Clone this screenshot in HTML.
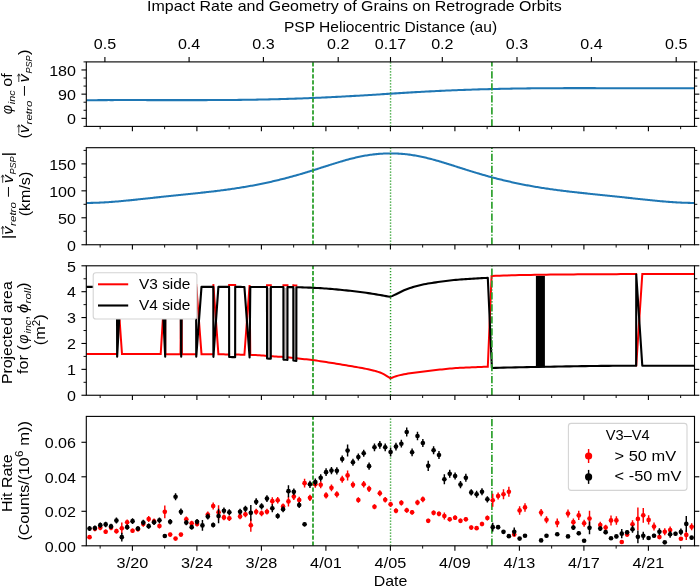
<!DOCTYPE html>
<html><head><meta charset="utf-8"><title>Impact Rate and Geometry of Grains on Retrograde Orbits</title>
<style>
html,body{margin:0;padding:0;background:#fff;}
svg{display:block;will-change:transform;}
text{font-family:"Liberation Sans",sans-serif;fill:#000;}
</style></head><body>
<svg width="700" height="587" viewBox="0 0 700 587">
<rect width="700" height="587" fill="#fff"/>
<defs>
<clipPath id="c0"><rect x="86.3" y="61.9" width="608.2" height="64.5"/></clipPath>
<clipPath id="c1"><rect x="86.3" y="147.7" width="608.2" height="97.05"/></clipPath>
<clipPath id="c2"><rect x="86.3" y="265.8" width="608.2" height="129.45"/></clipPath>
<clipPath id="c3"><rect x="86.3" y="416.4" width="608.2" height="129.4"/></clipPath>
</defs>
<g clip-path="url(#c0)">
<polyline points="86.3,100.21 88.33,100.2 90.37,100.19 92.4,100.17 94.44,100.16 96.47,100.15 98.5,100.14 100.54,100.13 102.57,100.12 104.61,100.12 106.64,100.11 108.68,100.1 110.71,100.1 112.74,100.1 114.78,100.09 116.81,100.09 118.85,100.09 120.88,100.08 122.91,100.08 124.95,100.08 126.98,100.08 129.02,100.08 131.05,100.08 133.08,100.08 135.12,100.09 137.15,100.09 139.19,100.09 141.22,100.09 143.26,100.09 145.29,100.1 147.32,100.1 149.36,100.1 151.39,100.1 153.43,100.11 155.46,100.11 157.49,100.11 159.53,100.12 161.56,100.12 163.6,100.12 165.63,100.13 167.66,100.13 169.7,100.13 171.73,100.13 173.77,100.13 175.8,100.14 177.84,100.14 179.87,100.14 181.9,100.14 183.94,100.14 185.97,100.14 188.01,100.14 190.04,100.14 192.07,100.14 194.11,100.13 196.14,100.13 198.18,100.13 200.21,100.12 202.24,100.12 204.28,100.11 206.31,100.11 208.35,100.1 210.38,100.09 212.42,100.08 214.45,100.07 216.48,100.06 218.52,100.05 220.55,100.04 222.59,100.03 224.62,100.01 226.65,100 228.69,99.98 230.72,99.96 232.76,99.94 234.79,99.92 236.82,99.9 238.86,99.88 240.89,99.86 242.93,99.83 244.96,99.81 246.99,99.78 249.03,99.75 251.06,99.72 253.1,99.69 255.13,99.65 257.17,99.62 259.2,99.58 261.23,99.54 263.27,99.51 265.3,99.46 267.34,99.42 269.37,99.38 271.4,99.33 273.44,99.28 275.47,99.23 277.51,99.18 279.54,99.13 281.57,99.07 283.61,99.01 285.64,98.95 287.68,98.89 289.71,98.83 291.75,98.76 293.78,98.7 295.81,98.63 297.85,98.56 299.88,98.49 301.92,98.41 303.95,98.34 305.98,98.26 308.02,98.18 310.05,98.1 312.09,98.02 314.12,97.93 316.15,97.84 318.19,97.76 320.22,97.67 322.26,97.57 324.29,97.48 326.33,97.39 328.36,97.29 330.39,97.19 332.43,97.09 334.46,96.99 336.5,96.89 338.53,96.78 340.56,96.67 342.6,96.57 344.63,96.46 346.67,96.35 348.7,96.23 350.73,96.12 352.77,96 354.8,95.88 356.84,95.77 358.87,95.65 360.91,95.52 362.94,95.4 364.97,95.28 367.01,95.15 369.04,95.03 371.08,94.9 373.11,94.78 375.14,94.65 377.18,94.52 379.21,94.4 381.25,94.27 383.28,94.14 385.31,94.01 387.35,93.88 389.38,93.76 391.42,93.63 393.45,93.5 395.49,93.37 397.52,93.25 399.55,93.12 401.59,93 403.62,92.87 405.66,92.75 407.69,92.62 409.72,92.5 411.76,92.38 413.79,92.26 415.83,92.14 417.86,92.03 419.89,91.91 421.93,91.8 423.96,91.69 426,91.58 428.03,91.47 430.07,91.36 432.1,91.26 434.13,91.16 436.17,91.06 438.2,90.96 440.24,90.86 442.27,90.77 444.3,90.68 446.34,90.59 448.37,90.5 450.41,90.41 452.44,90.33 454.47,90.25 456.51,90.16 458.54,90.09 460.58,90.01 462.61,89.93 464.65,89.86 466.68,89.79 468.71,89.72 470.75,89.65 472.78,89.58 474.82,89.52 476.85,89.46 478.88,89.39 480.92,89.34 482.95,89.28 484.99,89.22 487.02,89.17 489.05,89.11 491.09,89.06 493.12,89.01 495.16,88.96 497.19,88.92 499.23,88.87 501.26,88.83 503.29,88.79 505.33,88.75 507.36,88.71 509.4,88.67 511.43,88.63 513.46,88.6 515.5,88.56 517.53,88.53 519.57,88.5 521.6,88.47 523.63,88.44 525.67,88.42 527.7,88.39 529.74,88.37 531.77,88.35 533.81,88.32 535.84,88.3 537.87,88.29 539.91,88.27 541.94,88.25 543.98,88.24 546.01,88.22 548.04,88.21 550.08,88.2 552.11,88.19 554.15,88.18 556.18,88.17 558.21,88.16 560.25,88.15 562.28,88.15 564.32,88.14 566.35,88.14 568.38,88.13 570.42,88.13 572.45,88.13 574.49,88.13 576.52,88.13 578.56,88.13 580.59,88.13 582.62,88.13 584.66,88.13 586.69,88.13 588.73,88.13 590.76,88.14 592.79,88.14 594.83,88.14 596.86,88.15 598.9,88.15 600.93,88.16 602.96,88.16 605,88.17 607.03,88.18 609.07,88.18 611.1,88.19 613.14,88.19 615.17,88.2 617.2,88.21 619.24,88.21 621.27,88.22 623.31,88.22 625.34,88.23 627.37,88.24 629.41,88.24 631.44,88.25 633.48,88.25 635.51,88.26 637.54,88.27 639.58,88.27 641.61,88.27 643.65,88.28 645.68,88.28 647.72,88.29 649.75,88.29 651.78,88.29 653.82,88.29 655.85,88.29 657.89,88.3 659.92,88.3 661.95,88.29 663.99,88.29 666.02,88.29 668.06,88.29 670.09,88.29 672.12,88.28 674.16,88.28 676.19,88.27 678.23,88.26 680.26,88.26 682.3,88.25 684.33,88.24 686.36,88.23 688.4,88.22 690.43,88.2 692.47,88.19 694.5,88.18" fill="none" stroke="#1f77b4" stroke-width="2.05" stroke-linejoin="round"/>
<line x1="313" y1="126.4" x2="313" y2="61.9" stroke="#2ca02c" stroke-width="1.8" stroke-dasharray="4.2 1.8"/>
<line x1="390.55" y1="126.4" x2="390.55" y2="61.9" stroke="#2ca02c" stroke-width="1.45" stroke-dasharray="1.25 1.75"/>
<line x1="491.9" y1="126.4" x2="491.9" y2="61.9" stroke="#2ca02c" stroke-width="1.7" stroke-dasharray="7.23 1.8 1.13 1.8"/>
</g>
<g clip-path="url(#c1)">
<polyline points="86.3,202.9 87.52,202.91 88.74,202.91 89.96,202.9 91.18,202.89 92.39,202.87 93.61,202.85 94.83,202.82 96.05,202.78 97.27,202.74 98.49,202.69 99.71,202.64 100.93,202.58 102.14,202.52 103.36,202.46 104.58,202.39 105.8,202.32 107.02,202.24 108.24,202.16 109.46,202.07 110.68,201.99 111.9,201.89 113.11,201.8 114.33,201.7 115.55,201.6 116.77,201.5 117.99,201.4 119.21,201.29 120.43,201.18 121.65,201.07 122.87,200.95 124.08,200.84 125.3,200.72 126.52,200.6 127.74,200.48 128.96,200.36 130.18,200.24 131.4,200.11 132.62,199.99 133.83,199.86 135.05,199.73 136.27,199.61 137.49,199.48 138.71,199.35 139.93,199.22 141.15,199.09 142.37,198.96 143.59,198.82 144.8,198.69 146.02,198.56 147.24,198.43 148.46,198.3 149.68,198.16 150.9,198.03 152.12,197.9 153.34,197.77 154.55,197.64 155.77,197.5 156.99,197.37 158.21,197.24 159.43,197.11 160.65,196.98 161.87,196.85 163.09,196.72 164.31,196.59 165.52,196.46 166.74,196.33 167.96,196.2 169.18,196.07 170.4,195.94 171.62,195.82 172.84,195.69 174.06,195.56 175.28,195.44 176.49,195.31 177.71,195.18 178.93,195.06 180.15,194.93 181.37,194.8 182.59,194.68 183.81,194.55 185.03,194.43 186.24,194.3 187.46,194.18 188.68,194.05 189.9,193.92 191.12,193.8 192.34,193.67 193.56,193.54 194.78,193.42 196,193.29 197.21,193.16 198.43,193.03 199.65,192.9 200.87,192.77 202.09,192.64 203.31,192.5 204.53,192.37 205.75,192.24 206.96,192.1 208.18,191.96 209.4,191.82 210.62,191.68 211.84,191.54 213.06,191.4 214.28,191.25 215.5,191.11 216.72,190.96 217.93,190.81 219.15,190.66 220.37,190.5 221.59,190.35 222.81,190.19 224.03,190.03 225.25,189.87 226.47,189.7 227.69,189.53 228.9,189.37 230.12,189.19 231.34,189.02 232.56,188.84 233.78,188.66 235,188.48 236.22,188.3 237.44,188.11 238.65,187.92 239.87,187.73 241.09,187.53 242.31,187.33 243.53,187.13 244.75,186.93 245.97,186.72 247.19,186.51 248.41,186.3 249.62,186.08 250.84,185.86 252.06,185.64 253.28,185.42 254.5,185.19 255.72,184.96 256.94,184.72 258.16,184.48 259.37,184.24 260.59,184 261.81,183.75 263.03,183.5 264.25,183.24 265.47,182.98 266.69,182.72 267.91,182.46 269.13,182.19 270.34,181.92 271.56,181.64 272.78,181.36 274,181.08 275.22,180.8 276.44,180.51 277.66,180.22 278.88,179.92 280.1,179.62 281.31,179.32 282.53,179.01 283.75,178.7 284.97,178.39 286.19,178.07 287.41,177.75 288.63,177.43 289.85,177.1 291.06,176.77 292.28,176.44 293.5,176.1 294.72,175.76 295.94,175.42 297.16,175.07 298.38,174.72 299.6,174.37 300.82,174.01 302.03,173.66 303.25,173.29 304.47,172.93 305.69,172.56 306.91,172.19 308.13,171.82 309.35,171.44 310.57,171.07 311.78,170.69 313,170.31 314.22,169.92 315.44,169.54 316.66,169.15 317.88,168.77 319.1,168.38 320.32,167.99 321.54,167.6 322.75,167.21 323.97,166.82 325.19,166.43 326.41,166.05 327.63,165.66 328.85,165.27 330.07,164.88 331.29,164.5 332.51,164.11 333.72,163.73 334.94,163.36 336.16,162.98 337.38,162.61 338.6,162.24 339.82,161.87 341.04,161.51 342.26,161.15 343.47,160.8 344.69,160.45 345.91,160.11 347.13,159.77 348.35,159.44 349.57,159.11 350.79,158.8 352.01,158.49 353.23,158.18 354.44,157.89 355.66,157.6 356.88,157.32 358.1,157.05 359.32,156.78 360.54,156.53 361.76,156.29 362.98,156.05 364.19,155.82 365.41,155.61 366.63,155.4 367.85,155.2 369.07,155.01 370.29,154.84 371.51,154.67 372.73,154.51 373.95,154.37 375.16,154.23 376.38,154.11 377.6,153.99 378.82,153.89 380.04,153.8 381.26,153.72 382.48,153.65 383.7,153.59 384.92,153.54 386.13,153.5 387.35,153.47 388.57,153.46 389.79,153.45 391.01,153.45 392.23,153.45 393.45,153.47 394.67,153.49 395.88,153.53 397.1,153.58 398.32,153.64 399.54,153.7 400.76,153.78 401.98,153.88 403.2,153.98 404.42,154.09 405.64,154.21 406.85,154.35 408.07,154.49 409.29,154.64 410.51,154.81 411.73,154.98 412.95,155.17 414.17,155.37 415.39,155.57 416.61,155.79 417.82,156.01 419.04,156.25 420.26,156.49 421.48,156.74 422.7,157 423.92,157.27 425.14,157.55 426.36,157.84 427.57,158.13 428.79,158.43 430.01,158.74 431.23,159.06 432.45,159.38 433.67,159.71 434.89,160.05 436.11,160.39 437.33,160.74 438.54,161.09 439.76,161.45 440.98,161.81 442.2,162.18 443.42,162.54 444.64,162.92 445.86,163.29 447.08,163.67 448.29,164.05 449.51,164.44 450.73,164.82 451.95,165.21 453.17,165.59 454.39,165.98 455.61,166.37 456.83,166.76 458.05,167.15 459.26,167.54 460.48,167.93 461.7,168.32 462.92,168.7 464.14,169.09 465.36,169.48 466.58,169.86 467.8,170.24 469.02,170.63 470.23,171 471.45,171.38 472.67,171.76 473.89,172.13 475.11,172.5 476.33,172.87 477.55,173.23 478.77,173.6 479.98,173.96 481.2,174.31 482.42,174.67 483.64,175.02 484.86,175.36 486.08,175.71 487.3,176.05 488.52,176.39 489.74,176.72 490.95,177.05 492.17,177.38 493.39,177.7 494.61,178.02 495.83,178.34 497.05,178.65 498.27,178.96 499.49,179.27 500.7,179.57 501.92,179.87 503.14,180.17 504.36,180.46 505.58,180.75 506.8,181.04 508.02,181.32 509.24,181.6 510.46,181.87 511.67,182.15 512.89,182.41 514.11,182.68 515.33,182.94 516.55,183.2 517.77,183.46 518.99,183.71 520.21,183.96 521.43,184.2 522.64,184.44 523.86,184.68 525.08,184.92 526.3,185.15 527.52,185.38 528.74,185.61 529.96,185.83 531.18,186.05 532.39,186.26 533.61,186.48 534.83,186.69 536.05,186.9 537.27,187.1 538.49,187.3 539.71,187.5 540.93,187.7 542.15,187.89 543.36,188.08 544.58,188.27 545.8,188.45 547.02,188.63 548.24,188.81 549.46,188.99 550.68,189.17 551.9,189.34 553.11,189.51 554.33,189.67 555.55,189.84 556.77,190 557.99,190.16 559.21,190.32 560.43,190.48 561.65,190.63 562.87,190.78 564.08,190.93 565.3,191.08 566.52,191.23 567.74,191.38 568.96,191.52 570.18,191.66 571.4,191.8 572.62,191.94 573.84,192.08 575.05,192.21 576.27,192.35 577.49,192.48 578.71,192.62 579.93,192.75 581.15,192.88 582.37,193.01 583.59,193.14 584.8,193.27 586.02,193.39 587.24,193.52 588.46,193.65 589.68,193.78 590.9,193.9 592.12,194.03 593.34,194.15 594.56,194.28 595.77,194.41 596.99,194.53 598.21,194.66 599.43,194.78 600.65,194.91 601.87,195.04 603.09,195.16 604.31,195.29 605.52,195.41 606.74,195.54 607.96,195.67 609.18,195.8 610.4,195.92 611.62,196.05 612.84,196.18 614.06,196.31 615.28,196.44 616.49,196.57 617.71,196.7 618.93,196.83 620.15,196.96 621.37,197.09 622.59,197.22 623.81,197.35 625.03,197.48 626.25,197.61 627.46,197.75 628.68,197.88 629.9,198.01 631.12,198.14 632.34,198.28 633.56,198.41 634.78,198.54 636,198.67 637.21,198.8 638.43,198.93 639.65,199.06 640.87,199.2 642.09,199.33 643.31,199.46 644.53,199.58 645.75,199.71 646.97,199.84 648.18,199.97 649.4,200.09 650.62,200.22 651.84,200.34 653.06,200.46 654.28,200.58 655.5,200.7 656.72,200.82 657.93,200.93 659.15,201.05 660.37,201.16 661.59,201.27 662.81,201.38 664.03,201.48 665.25,201.59 666.47,201.69 667.69,201.78 668.9,201.88 670.12,201.97 671.34,202.06 672.56,202.14 673.78,202.23 675,202.3 676.22,202.38 677.44,202.45 678.66,202.51 679.87,202.57 681.09,202.63 682.31,202.68 683.53,202.73 684.75,202.77 685.97,202.81 687.19,202.84 688.41,202.87 689.62,202.89 690.84,202.9 692.06,202.91 693.28,202.91 694.5,202.9" fill="none" stroke="#1f77b4" stroke-width="2.05" stroke-linejoin="round"/>
<line x1="313" y1="244.75" x2="313" y2="147.7" stroke="#2ca02c" stroke-width="1.8" stroke-dasharray="4.2 1.8"/>
<line x1="390.55" y1="244.75" x2="390.55" y2="147.7" stroke="#2ca02c" stroke-width="1.45" stroke-dasharray="1.25 1.75"/>
<line x1="491.9" y1="244.75" x2="491.9" y2="147.7" stroke="#2ca02c" stroke-width="1.7" stroke-dasharray="7.23 1.8 1.13 1.8"/>
</g>
<g clip-path="url(#c2)">
<path d="M86.3 354.05L88.22 354.05L90.14 354.05L92.06 354.05L93.97 354.05L95.89 354.05L97.81 354.05L99.73 354.05L101.65 354.05L103.57 354.05L105.49 354.05L107.41 354.06L109.33 354.06L111.24 354.06L113.16 354.06L115.08 354.06L117 354.06L117 354.06M117.15 285.1L117.15 285.1L122 354.06L122 354.06L123.94 354.07L125.87 354.07L127.8 354.07L129.74 354.07L131.68 354.07L133.61 354.08L135.54 354.08L137.48 354.08L139.41 354.08L141.35 354.08L143.28 354.09L145.22 354.09L147.16 354.09L149.09 354.1L151.02 354.1L152.96 354.1L154.89 354.1L156.83 354.11L158.76 354.11L160.7 354.11L160.7 354.11L165 285.1L165 285.1L165.3 354.12L165.3 354.12L167.2 354.13L169.1 354.13L171 354.13L172.9 354.14L174.8 354.14L176.7 354.14L178.6 354.15L180.5 354.15L180.5 354.15L181.2 285.1L181.2 285.1L181.9 354.16L181.9 354.16L183.68 354.16L185.45 354.16L187.22 354.17L189 354.17L190.78 354.18L192.55 354.18L194.32 354.19L196.1 354.19L196.1 354.19M196.25 285.1L196.25 285.1L201.5 354.2L201.5 354.2L203.47 354.21L205.43 354.22L207.4 354.23L209.37 354.24L211.33 354.25L213.3 354.27L213.3 354.27M213.4 285.1L213.4 285.1L218.4 354.31L218.4 354.31L220.18 354.33L221.97 354.35L223.75 354.37L225.53 354.4L227.32 354.42L229.1 354.45L229.1 354.45M229.15 285.11L229.15 285.11L230.65 285.11L232.15 285.11L233.65 285.12L235.15 285.12L235.15 285.12M235.2 354.54L235.2 354.54L237.04 354.58L238.88 354.61L240.72 354.65L242.56 354.69L244.4 354.73L244.4 354.73L249.6 285.13L249.6 285.13L250.3 354.87L250.3 354.87L252.16 354.92L254.01 354.97L255.87 355.03L257.72 355.13L259.58 355.26L261.43 355.42L263.29 355.59L265.14 355.76L267 355.92L267 355.92M267.05 285.17L267.05 285.17L268.93 285.17L270.8 285.18L270.8 285.18M270.85 356.2L270.85 356.2L272.64 356.31L274.44 356.42L276.23 356.53L278.02 356.64L279.81 356.75L281.61 356.86L283.4 356.98L283.4 356.98M283.45 285.22L283.45 285.22L284.78 285.23L286.12 285.25L287.45 285.27L287.45 285.27M287.5 357.29L287.5 357.29L289.43 357.45L291.37 357.64L293.3 357.87L293.3 357.87M293.35 285.37L293.35 285.37L294.85 285.4L296.35 285.43L296.35 285.43M296.4 358.27L296.4 358.27L298.39 358.5L300.39 358.72L302.38 358.93L304.37 359.14L306.37 359.35L308.36 359.56L310.35 359.79L312.35 360.03L314.34 360.29L316.33 360.57L318.33 360.87L320.32 361.17L322.31 361.48L324.31 361.8L326.3 362.11L328.29 362.42L330.28 362.73L332.28 363.05L334.27 363.36L336.26 363.68L338.26 364.01L340.25 364.33L342.24 364.66L344.24 364.99L346.23 365.31L348.22 365.64L350.22 365.98L352.21 366.31L354.2 366.66L356.2 367.01L358.19 367.38L360.18 367.74L362.18 368.1L364.17 368.48L366.16 368.86L368.16 369.27L370.15 369.7L372.14 370.16L374.14 370.66L376.13 371.21L378.12 371.83L380.12 372.54L382.11 373.41L384.1 374.43L386.1 375.56L388.09 376.8L390.08 378.19L392.07 377.74L394.07 376.87L396.06 376.2L398.05 375.64L400.05 375.14L402.04 374.7L404.03 374.31L406.03 373.94L408.02 373.61L410.01 373.29L412.01 373L414 372.73L415.99 372.47L417.99 372.22L419.98 371.97L421.97 371.72L423.97 371.46L425.96 371.22L427.95 370.97L429.95 370.73L431.94 370.49L433.93 370.26L435.93 370.04L437.92 369.82L439.91 369.61L441.91 369.4L443.9 369.19L445.89 368.98L447.89 368.78L449.88 368.58L451.87 368.4L453.87 368.23L455.86 368.08L457.85 367.95L459.84 367.84L461.84 367.74L463.83 367.64L465.82 367.55L467.82 367.46L469.81 367.38L471.8 367.3L473.8 367.22L475.79 367.14L477.78 367.06L479.78 366.98L481.77 366.91L483.76 366.84L485.76 366.77L487.75 366.7L487.8 366.7L491.6 275.89L491.9 275.88L495.8 275.76L499.7 275.65L503.6 275.54L507.49 275.43L511.39 275.32L515.29 275.22L519.19 275.12L523.09 275.03L526.99 274.95L530.89 274.88L534.79 274.81L538.68 274.75L542.58 274.7L546.48 274.66L550.38 274.62L554.28 274.58L558.18 274.54L562.08 274.51L565.97 274.47L569.87 274.43L573.77 274.4L577.67 274.37L581.57 274.33L585.47 274.3L589.37 274.28L593.26 274.25L597.16 274.22L601.06 274.2L604.96 274.18L608.86 274.16L612.76 274.15L616.66 274.13L620.56 274.12L624.45 274.11L628.35 274.1L632.25 274.1L636.15 274.1L636.15 274.1M636.25 365.4L636.25 365.4L642.3 274.1L642.3 274.1L646.17 274.1L650.04 274.1L653.91 274.1L657.79 274.1L661.66 274.1L665.53 274.1L669.4 274.1L673.27 274.1L677.14 274.1L681.01 274.1L684.89 274.1L688.76 274.1L692.63 274.1L696.5 274.1" fill="none" stroke="#ff0000" stroke-width="2" stroke-linejoin="miter" stroke-linecap="square"/>
<rect x="267.8" y="287.97" width="2.2" height="68.96" fill="#c4bcbc"/>
<rect x="284.2" y="288.02" width="2.5" height="69.96" fill="#c4bcbc"/>
<rect x="294.1" y="288.17" width="1.5" height="70.7" fill="#c4bcbc"/>
<polyline points="86.3,286.9 88.22,286.9 90.14,286.9 92.06,286.9 93.97,286.9 95.89,286.9 97.81,286.9 99.73,286.9 101.65,286.9 103.57,286.9 105.49,286.9 107.41,286.9 109.33,286.9 111.24,286.9 113.16,286.9 115.08,286.9 117,286.9 117,286.9 117.15,356.66 117.15,356.66 120.9,286.9 120.9,286.9 122.85,286.9 124.8,286.9 126.76,286.9 128.71,286.9 130.66,286.9 132.61,286.9 134.57,286.9 136.52,286.9 138.47,286.9 140.42,286.9 142.38,286.9 144.33,286.9 146.28,286.9 148.23,286.9 150.19,286.9 152.14,286.9 154.09,286.9 156.04,286.9 158,286.9 159.95,286.9 161.9,286.9 161.9,286.9 165.2,356.72 165.2,356.72 165.5,286.9 165.5,286.9 167.38,286.9 169.25,286.9 171.12,286.9 173,286.9 174.88,286.9 176.75,286.9 178.62,286.9 180.5,286.9 180.5,286.9 181.2,356.75 181.2,356.75 181.9,286.9 181.9,286.9 183.68,286.9 185.45,286.9 187.22,286.9 189,286.9 190.78,286.9 192.55,286.9 194.32,286.9 196.1,286.9 196.1,286.9 196.25,356.79 196.25,356.79 201.5,286.9 201.5,286.9 203.47,286.9 205.43,286.9 207.4,286.9 209.37,286.9 211.33,286.9 213.3,286.9 213.3,286.9 213.4,356.87 213.4,356.87 218.4,286.9 218.4,286.9 220.18,286.91 221.97,286.91 223.75,286.91 225.53,286.91 227.32,286.91 229.1,286.91 229.1,286.91 229.15,357.05 229.15,357.05 230.65,357.07 232.15,357.09 233.65,357.12 235.15,357.14 235.15,357.14 235.2,286.92 235.2,286.92 237.04,286.92 238.88,286.92 240.72,286.92 242.56,286.93 244.4,286.93 244.4,286.93 249.6,357.45 249.6,357.45 250.3,286.94 250.3,286.94 252.16,286.94 254.01,286.94 255.87,286.95 257.72,286.95 259.58,286.95 261.43,286.96 263.29,286.96 265.14,286.96 267,286.97 267,286.97 267.05,358.53 267.05,358.53 268.93,358.67 270.8,358.79 270.8,358.79 270.85,286.98 270.85,286.98 272.64,286.98 274.44,286.99 276.23,286.99 278.02,286.99 279.81,287 281.61,287.01 283.4,287.02 283.4,287.02 283.45,359.59 283.45,359.59 284.78,359.68 286.12,359.78 287.45,359.88 287.45,359.88 287.5,287.07 287.5,287.07 289.43,287.1 291.37,287.13 293.3,287.17 293.3,287.17 293.35,360.48 293.35,360.48 294.85,360.67 296.35,360.86 296.35,360.86 296.4,287.23 296.4,287.23 298.39,287.27 300.39,287.32 302.38,287.37 304.37,287.44 306.37,287.51 308.36,287.58 310.35,287.66 312.35,287.74 314.34,287.83 316.33,287.93 318.33,288.05 320.32,288.16 322.31,288.29 324.31,288.43 326.3,288.56 328.29,288.71 330.28,288.86 332.28,289.03 334.27,289.21 336.26,289.39 338.26,289.58 340.25,289.78 342.24,289.97 344.24,290.17 346.23,290.38 348.22,290.59 350.22,290.8 352.21,291.03 354.2,291.25 356.2,291.49 358.19,291.74 360.18,291.99 362.18,292.25 364.17,292.52 366.16,292.81 368.16,293.09 370.15,293.39 372.14,293.69 374.14,294.01 376.13,294.34 378.12,294.69 380.12,295.04 382.11,295.39 384.1,295.74 386.1,296.1 388.09,296.46 390.08,296.82 392.07,296.13 394.07,295.16 396.06,294.2 398.05,293.23 400.05,292.23 402.04,291.24 404.03,290.3 406.03,289.47 408.02,288.72 410.01,288.03 412.01,287.38 414,286.79 415.99,286.23 417.99,285.7 419.98,285.21 421.97,284.75 423.97,284.33 425.96,283.94 427.95,283.59 429.95,283.26 431.94,282.95 433.93,282.65 435.93,282.34 437.92,282.04 439.91,281.74 441.91,281.45 443.9,281.18 445.89,280.92 447.89,280.68 449.88,280.46 451.87,280.26 453.87,280.06 455.86,279.88 457.85,279.7 459.84,279.54 461.84,279.38 463.83,279.23 465.82,279.09 467.82,278.96 469.81,278.83 471.8,278.7 473.8,278.58 475.79,278.46 477.78,278.35 479.78,278.25 481.77,278.15 483.76,278.06 485.76,277.98 487.75,277.9 487.8,277.9 491.9,367.99 491.9,367.99 495.8,367.88 499.7,367.77 503.6,367.67 507.49,367.57 511.39,367.47 515.29,367.37 519.19,367.28 523.09,367.19 526.99,367.1 530.89,367.02 534.79,366.95 538.68,366.87 542.58,366.81 546.48,366.74 550.38,366.68 554.28,366.61 558.18,366.55 562.08,366.48 565.97,366.42 569.87,366.36 573.77,366.29 577.67,366.23 581.57,366.17 585.47,366.12 589.37,366.06 593.26,366.01 597.16,365.96 601.06,365.91 604.96,365.87 608.86,365.83 612.76,365.8 616.66,365.77 620.56,365.74 624.45,365.72 628.35,365.71 632.25,365.7 636.15,365.7 636.15,365.7 636.25,274.5 636.25,274.5 642.3,365.7 642.3,365.7 646.17,365.7 650.04,365.7 653.91,365.7 657.79,365.7 661.66,365.7 665.53,365.7 669.4,365.7 673.27,365.7 677.14,365.7 681.01,365.7 684.89,365.7 688.76,365.7 692.63,365.7 696.5,365.7" fill="none" stroke="#000" stroke-width="2.1" stroke-linejoin="round" stroke-linejoin="miter"/>
<rect x="535.9" y="275.94" width="9.0" height="91.62" fill="#000"/>
<line x1="313" y1="395.25" x2="313" y2="265.8" stroke="#2ca02c" stroke-width="1.8" stroke-dasharray="4.2 1.8"/>
<line x1="390.55" y1="395.25" x2="390.55" y2="265.8" stroke="#2ca02c" stroke-width="1.45" stroke-dasharray="1.25 1.75"/>
<line x1="491.9" y1="395.25" x2="491.9" y2="265.8" stroke="#2ca02c" stroke-width="1.7" stroke-dasharray="7.23 1.8 1.13 1.8"/>
</g>
<g clip-path="url(#c3)">
<line x1="313" y1="545.8" x2="313" y2="416.4" stroke="#2ca02c" stroke-width="1.8" stroke-dasharray="4.2 1.8"/>
<line x1="390.55" y1="545.8" x2="390.55" y2="416.4" stroke="#2ca02c" stroke-width="1.45" stroke-dasharray="1.25 1.75"/>
<line x1="491.9" y1="545.8" x2="491.9" y2="416.4" stroke="#2ca02c" stroke-width="1.7" stroke-dasharray="7.23 1.8 1.13 1.8"/>
<path d="M89.54 535.36V538.93M94.92 526.36V531.35M100.29 525.14V530.29M105.67 529.45V533.98M111.04 525.16V530.27M116.42 528.86V533.43M121.8 522.57V534M127.17 519.42V525.15M132.55 528.44V532.99M137.92 526.76V531.52M143.3 521.3V526.7M148.68 516.02V521.98M154.05 518.6V524.25M159.43 523.47V528.53M164.8 505.43V518.29M170.18 532.69V536.45M175.56 537.07V540.07M180.93 532.71V536.43M186.31 516.44V522.13M191.68 520.68V525.89M197.06 521.45V526.55M207.81 511.55V517.59M213.19 502.61V509.39M218.56 505.14V519.43M223.94 514.6V520.25M229.32 515.52V521.05M240.07 513.61V519.24M245.44 511.39V517.18M250.82 518.86V531.71M256.2 508.75V514.68M261.57 510.42V516.15M266.95 508.81V514.62M272.32 497.14V505.14M277.7 496.99V503.58M283.08 503.39V509.46M288.45 496.43V506.43M293.83 493.25V499.89M299.2 496.83V503.17M304.58 478.86V487.43M309.96 494.69V501.03M315.33 480.74V487.84M320.71 481.22V488.21M326.08 492.29V498.57M331.46 484.52V491.19M336.84 491.17V497.4M342.21 475.78V482.79M347.59 470.43V480.43M352.96 481.42V488.01M358.34 497.16V502.84M363.72 481.02V487.55M369.09 485.73V491.98M374.47 504.13V509.29M379.84 490.3V496.27M385.22 496.92V502.5M390.6 501.64V506.93M395.97 508.28V513.15M401.35 500.16V505.55M406.72 507.83V512.75M412.1 509.89V514.68M417.48 499.83V505.31M422.85 496.43V502.14M428.23 518.75V522.97M433.6 510.41V515.3M438.98 511.43V516.28M444.36 512.43V519.57M449.73 517.03V521.54M455.11 515.37V520.06M460.48 518.62V523.09M465.86 516.95V521.62M471.24 525.62V529.53M476.61 526.2V530.09M481.99 521.81V526.19M487.36 515.5V520.5M492.74 493.86V506.71M498.12 492.43V499.57M503.49 489.29V499.29M508.87 486.71V496.71M514.24 532.9V536.24M519.62 506.14V514.71M525 503.14V511.71M541.12 509V516.14M546.5 516.14V523.29M557.25 518.57V527.14M568 509.57V517.57M573.38 518.57V525.71M578.76 510.86V520M584.13 519.71V526.86M589.51 510.71V526.43M600.26 521.86V528.14M605.64 524.71V530.43M611.01 515.43V525.43M616.39 516.14V524.71M621.76 540.89V543.11M627.14 532.65V536.49M632.52 520.29V528.29M637.89 507.49V530.34M643.27 507.94V522.8M648.64 515.37V524.51M654.02 522.57V530.57M659.4 535.33V538.84M664.77 528.29V535.14M670.15 526.57V533.43M680.9 537.2V540.4M686.28 529.77V540.06M691.65 523.37V530.23" stroke="#ff0000" stroke-width="1.45" fill="none"/>
<g fill="#ff0000"><circle cx="89.54" cy="537.14" r="2.32"/><circle cx="94.92" cy="528.86" r="2.32"/><circle cx="100.29" cy="527.71" r="2.32"/><circle cx="105.67" cy="531.71" r="2.32"/><circle cx="111.04" cy="527.71" r="2.32"/><circle cx="116.42" cy="531.14" r="2.32"/><circle cx="121.8" cy="528.29" r="2.32"/><circle cx="127.17" cy="522.29" r="2.32"/><circle cx="132.55" cy="530.71" r="2.32"/><circle cx="137.92" cy="529.14" r="2.32"/><circle cx="143.3" cy="524" r="2.32"/><circle cx="148.68" cy="519" r="2.32"/><circle cx="154.05" cy="521.43" r="2.32"/><circle cx="159.43" cy="526" r="2.32"/><circle cx="164.8" cy="511.86" r="2.32"/><circle cx="170.18" cy="534.57" r="2.32"/><circle cx="175.56" cy="538.57" r="2.32"/><circle cx="180.93" cy="534.57" r="2.32"/><circle cx="186.31" cy="519.29" r="2.32"/><circle cx="191.68" cy="523.29" r="2.32"/><circle cx="197.06" cy="524" r="2.32"/><circle cx="207.81" cy="514.57" r="2.32"/><circle cx="213.19" cy="506" r="2.32"/><circle cx="218.56" cy="512.29" r="2.32"/><circle cx="223.94" cy="517.43" r="2.32"/><circle cx="229.32" cy="518.29" r="2.32"/><circle cx="240.07" cy="516.43" r="2.32"/><circle cx="245.44" cy="514.29" r="2.32"/><circle cx="250.82" cy="525.29" r="2.32"/><circle cx="256.2" cy="511.71" r="2.32"/><circle cx="261.57" cy="513.29" r="2.32"/><circle cx="266.95" cy="511.71" r="2.32"/><circle cx="272.32" cy="501.14" r="2.32"/><circle cx="277.7" cy="500.29" r="2.32"/><circle cx="283.08" cy="506.43" r="2.32"/><circle cx="288.45" cy="501.43" r="2.32"/><circle cx="293.83" cy="496.57" r="2.32"/><circle cx="299.2" cy="500" r="2.32"/><circle cx="304.58" cy="483.14" r="2.32"/><circle cx="309.96" cy="497.86" r="2.32"/><circle cx="315.33" cy="484.29" r="2.32"/><circle cx="320.71" cy="484.71" r="2.32"/><circle cx="326.08" cy="495.43" r="2.32"/><circle cx="331.46" cy="487.86" r="2.32"/><circle cx="336.84" cy="494.29" r="2.32"/><circle cx="342.21" cy="479.29" r="2.32"/><circle cx="347.59" cy="475.43" r="2.32"/><circle cx="352.96" cy="484.71" r="2.32"/><circle cx="358.34" cy="500" r="2.32"/><circle cx="363.72" cy="484.29" r="2.32"/><circle cx="369.09" cy="488.86" r="2.32"/><circle cx="374.47" cy="506.71" r="2.32"/><circle cx="379.84" cy="493.29" r="2.32"/><circle cx="385.22" cy="499.71" r="2.32"/><circle cx="390.6" cy="504.29" r="2.32"/><circle cx="395.97" cy="510.71" r="2.32"/><circle cx="401.35" cy="502.86" r="2.32"/><circle cx="406.72" cy="510.29" r="2.32"/><circle cx="412.1" cy="512.29" r="2.32"/><circle cx="417.48" cy="502.57" r="2.32"/><circle cx="422.85" cy="499.29" r="2.32"/><circle cx="428.23" cy="520.86" r="2.32"/><circle cx="433.6" cy="512.86" r="2.32"/><circle cx="438.98" cy="513.86" r="2.32"/><circle cx="444.36" cy="516" r="2.32"/><circle cx="449.73" cy="519.29" r="2.32"/><circle cx="455.11" cy="517.71" r="2.32"/><circle cx="460.48" cy="520.86" r="2.32"/><circle cx="465.86" cy="519.29" r="2.32"/><circle cx="471.24" cy="527.57" r="2.32"/><circle cx="476.61" cy="528.14" r="2.32"/><circle cx="481.99" cy="524" r="2.32"/><circle cx="487.36" cy="518" r="2.32"/><circle cx="492.74" cy="500.29" r="2.32"/><circle cx="498.12" cy="496" r="2.32"/><circle cx="503.49" cy="494.29" r="2.32"/><circle cx="508.87" cy="491.71" r="2.32"/><circle cx="514.24" cy="534.57" r="2.32"/><circle cx="519.62" cy="510.43" r="2.32"/><circle cx="525" cy="507.43" r="2.32"/><circle cx="541.12" cy="512.57" r="2.32"/><circle cx="546.5" cy="519.71" r="2.32"/><circle cx="557.25" cy="522.86" r="2.32"/><circle cx="568" cy="513.57" r="2.32"/><circle cx="573.38" cy="522.14" r="2.32"/><circle cx="578.76" cy="515.43" r="2.32"/><circle cx="584.13" cy="523.29" r="2.32"/><circle cx="589.51" cy="518.57" r="2.32"/><circle cx="600.26" cy="525" r="2.32"/><circle cx="605.64" cy="527.57" r="2.32"/><circle cx="611.01" cy="520.43" r="2.32"/><circle cx="616.39" cy="520.43" r="2.32"/><circle cx="621.76" cy="542" r="2.32"/><circle cx="627.14" cy="534.57" r="2.32"/><circle cx="632.52" cy="524.29" r="2.32"/><circle cx="637.89" cy="518.91" r="2.32"/><circle cx="643.27" cy="515.37" r="2.32"/><circle cx="648.64" cy="519.94" r="2.32"/><circle cx="654.02" cy="526.57" r="2.32"/><circle cx="659.4" cy="537.09" r="2.32"/><circle cx="664.77" cy="531.71" r="2.32"/><circle cx="670.15" cy="530" r="2.32"/><circle cx="680.9" cy="538.8" r="2.32"/><circle cx="686.28" cy="534.91" r="2.32"/><circle cx="691.65" cy="526.8" r="2.32"/></g>
<path d="M89.54 526.05V531.09M94.92 525.44V530.56M100.29 522.39V527.89M105.67 521.64V527.21M111.04 523.79V529.07M116.42 517.57V523.57M121.8 532.86V541.43M127.17 524.59V529.69M132.55 518.23V524.06M137.92 526.15V530.99M143.3 519.78V525.36M148.68 523.59V528.7M154.05 519.51V525.06M159.43 517.41V523.16M164.8 534.23V537.77M170.18 518.96V524.47M175.56 493.14V500.29M180.93 508.47V514.96M186.31 519.91V525.23M191.68 524.77V529.52M197.06 519.03V524.4M202.44 520V530.86M207.81 513.65V519.49M213.19 522.55V527.45M218.56 508.86V523.14M223.94 507.57V513.86M229.32 509.23V515.34M240.07 508.68V514.75M245.44 505.72V511.99M250.82 505V520.71M256.2 498.35V505.08M261.57 503.13V509.45M266.95 495.15V501.99M272.32 504.29V512.29M277.7 513.33V518.67M283.08 506.36V512.21M288.45 485.14V497.14M293.83 488.38V495.33M299.2 502.01V507.99M304.58 522.14V526.43M309.96 480.7V487.88M315.33 478.38V485.62M320.71 474.17V481.55M326.08 468.34V475.94M331.46 467V474.14M336.84 467.29V474.43M342.21 455.43V462.57M347.59 444.57V456.57M352.96 458.71V465.86M358.34 453.43V460.57M363.72 449.71V456.86M369.09 462.57V469.71M374.47 443.43V451.14M379.84 441V448.71M385.22 443.43V451.14M390.6 447.43V456.57M395.97 442.71V450.43M401.35 439.86V447.57M406.72 427.43V436.57M412.1 448.43V456.14M417.48 431.71V440.29M422.85 439V447M428.23 460.71V471M433.6 446.29V454.29M438.98 451V459M444.36 474.29V484.29M449.73 469.86V477.86M455.11 472.43V479.57M460.48 481V488.14M465.86 473.86V481.86M471.24 489.29V495.57M476.61 490.71V497.86M481.99 488.14V495.29M487.36 496.14V502.43M492.74 522.86V531.43M498.12 525.05V529.23M503.49 530.03V533.68M508.87 534.61V537.68M514.24 527.43V536M519.62 537.22V539.92M525 534.1V537.33M541.12 539.22V541.63M546.5 534.05V537.38M557.25 532.48V536.09M568 534.78V538.07M573.38 525.26V529.88M578.76 531.36V535.21M584.13 539.48V541.95M589.51 521.43V534.29M600.26 526.26V530.88M605.64 530.08V534.21M611.01 536.75V539.83M616.39 534.7V538.16M621.76 529.09V538.23M627.14 530.18V534.39M632.52 525.54V532.86M637.89 530.57V543.14M643.27 531.71V539.71M648.64 536.36V539.64M654.02 533.84V537.59M659.4 528.29V535.14M664.77 541.23V543.45M670.15 530.8V537.66M675.52 531.68V535.86M680.9 528.51V535.37M686.28 515.94V531.94M691.65 535.93V539.39" stroke="#000" stroke-width="1.45" fill="none"/>
<g fill="#000"><circle cx="89.54" cy="528.57" r="2.32"/><circle cx="94.92" cy="528" r="2.32"/><circle cx="100.29" cy="525.14" r="2.32"/><circle cx="105.67" cy="524.43" r="2.32"/><circle cx="111.04" cy="526.43" r="2.32"/><circle cx="116.42" cy="520.57" r="2.32"/><circle cx="121.8" cy="537.14" r="2.32"/><circle cx="127.17" cy="527.14" r="2.32"/><circle cx="132.55" cy="521.14" r="2.32"/><circle cx="137.92" cy="528.57" r="2.32"/><circle cx="143.3" cy="522.57" r="2.32"/><circle cx="148.68" cy="526.14" r="2.32"/><circle cx="154.05" cy="522.29" r="2.32"/><circle cx="159.43" cy="520.29" r="2.32"/><circle cx="164.8" cy="536" r="2.32"/><circle cx="170.18" cy="521.71" r="2.32"/><circle cx="175.56" cy="496.71" r="2.32"/><circle cx="180.93" cy="511.71" r="2.32"/><circle cx="186.31" cy="522.57" r="2.32"/><circle cx="191.68" cy="527.14" r="2.32"/><circle cx="197.06" cy="521.71" r="2.32"/><circle cx="202.44" cy="525.43" r="2.32"/><circle cx="207.81" cy="516.57" r="2.32"/><circle cx="213.19" cy="525" r="2.32"/><circle cx="218.56" cy="516" r="2.32"/><circle cx="223.94" cy="510.71" r="2.32"/><circle cx="229.32" cy="512.29" r="2.32"/><circle cx="240.07" cy="511.71" r="2.32"/><circle cx="245.44" cy="508.86" r="2.32"/><circle cx="250.82" cy="512.86" r="2.32"/><circle cx="256.2" cy="501.71" r="2.32"/><circle cx="261.57" cy="506.29" r="2.32"/><circle cx="266.95" cy="498.57" r="2.32"/><circle cx="272.32" cy="508.29" r="2.32"/><circle cx="277.7" cy="516" r="2.32"/><circle cx="283.08" cy="509.29" r="2.32"/><circle cx="288.45" cy="491.14" r="2.32"/><circle cx="293.83" cy="491.86" r="2.32"/><circle cx="299.2" cy="505" r="2.32"/><circle cx="304.58" cy="524.29" r="2.32"/><circle cx="309.96" cy="484.29" r="2.32"/><circle cx="315.33" cy="482" r="2.32"/><circle cx="320.71" cy="477.86" r="2.32"/><circle cx="326.08" cy="472.14" r="2.32"/><circle cx="331.46" cy="470.57" r="2.32"/><circle cx="336.84" cy="470.86" r="2.32"/><circle cx="342.21" cy="459" r="2.32"/><circle cx="347.59" cy="450.57" r="2.32"/><circle cx="352.96" cy="462.29" r="2.32"/><circle cx="358.34" cy="457" r="2.32"/><circle cx="363.72" cy="453.29" r="2.32"/><circle cx="369.09" cy="466.14" r="2.32"/><circle cx="374.47" cy="447.29" r="2.32"/><circle cx="379.84" cy="444.86" r="2.32"/><circle cx="385.22" cy="447.29" r="2.32"/><circle cx="390.6" cy="452" r="2.32"/><circle cx="395.97" cy="446.57" r="2.32"/><circle cx="401.35" cy="443.71" r="2.32"/><circle cx="406.72" cy="432" r="2.32"/><circle cx="412.1" cy="452.29" r="2.32"/><circle cx="417.48" cy="436" r="2.32"/><circle cx="422.85" cy="443" r="2.32"/><circle cx="428.23" cy="465.86" r="2.32"/><circle cx="433.6" cy="450.29" r="2.32"/><circle cx="438.98" cy="455" r="2.32"/><circle cx="444.36" cy="479.29" r="2.32"/><circle cx="449.73" cy="473.86" r="2.32"/><circle cx="455.11" cy="476" r="2.32"/><circle cx="460.48" cy="484.57" r="2.32"/><circle cx="465.86" cy="477.86" r="2.32"/><circle cx="471.24" cy="492.43" r="2.32"/><circle cx="476.61" cy="494.29" r="2.32"/><circle cx="481.99" cy="491.71" r="2.32"/><circle cx="487.36" cy="499.29" r="2.32"/><circle cx="492.74" cy="527.14" r="2.32"/><circle cx="498.12" cy="527.14" r="2.32"/><circle cx="503.49" cy="531.86" r="2.32"/><circle cx="508.87" cy="536.14" r="2.32"/><circle cx="514.24" cy="531.71" r="2.32"/><circle cx="519.62" cy="538.57" r="2.32"/><circle cx="525" cy="535.71" r="2.32"/><circle cx="541.12" cy="540.43" r="2.32"/><circle cx="546.5" cy="535.71" r="2.32"/><circle cx="557.25" cy="534.29" r="2.32"/><circle cx="568" cy="536.43" r="2.32"/><circle cx="573.38" cy="527.57" r="2.32"/><circle cx="578.76" cy="533.29" r="2.32"/><circle cx="584.13" cy="540.71" r="2.32"/><circle cx="589.51" cy="527.86" r="2.32"/><circle cx="600.26" cy="528.57" r="2.32"/><circle cx="605.64" cy="532.14" r="2.32"/><circle cx="611.01" cy="538.29" r="2.32"/><circle cx="616.39" cy="536.43" r="2.32"/><circle cx="621.76" cy="533.66" r="2.32"/><circle cx="627.14" cy="532.29" r="2.32"/><circle cx="632.52" cy="529.2" r="2.32"/><circle cx="637.89" cy="536.86" r="2.32"/><circle cx="643.27" cy="535.71" r="2.32"/><circle cx="648.64" cy="538" r="2.32"/><circle cx="654.02" cy="535.71" r="2.32"/><circle cx="659.4" cy="531.71" r="2.32"/><circle cx="664.77" cy="542.34" r="2.32"/><circle cx="670.15" cy="534.23" r="2.32"/><circle cx="675.52" cy="533.77" r="2.32"/><circle cx="680.9" cy="531.94" r="2.32"/><circle cx="686.28" cy="523.94" r="2.32"/><circle cx="691.65" cy="537.66" r="2.32"/></g>
</g>
<rect x="86.3" y="61.9" width="608.2" height="64.5" fill="none" stroke="#000" stroke-width="1.11"/>
<line x1="132.4" y1="126.4" x2="132.4" y2="131.26" stroke="#000" stroke-width="1.11"/>
<line x1="196.9" y1="126.4" x2="196.9" y2="131.26" stroke="#000" stroke-width="1.11"/>
<line x1="261.4" y1="126.4" x2="261.4" y2="131.26" stroke="#000" stroke-width="1.11"/>
<line x1="325.9" y1="126.4" x2="325.9" y2="131.26" stroke="#000" stroke-width="1.11"/>
<line x1="390.4" y1="126.4" x2="390.4" y2="131.26" stroke="#000" stroke-width="1.11"/>
<line x1="454.9" y1="126.4" x2="454.9" y2="131.26" stroke="#000" stroke-width="1.11"/>
<line x1="519.4" y1="126.4" x2="519.4" y2="131.26" stroke="#000" stroke-width="1.11"/>
<line x1="583.9" y1="126.4" x2="583.9" y2="131.26" stroke="#000" stroke-width="1.11"/>
<line x1="648.4" y1="126.4" x2="648.4" y2="131.26" stroke="#000" stroke-width="1.11"/>
<line x1="100.15" y1="126.4" x2="100.15" y2="129.18" stroke="#000" stroke-width="0.95"/>
<line x1="164.65" y1="126.4" x2="164.65" y2="129.18" stroke="#000" stroke-width="0.95"/>
<line x1="229.15" y1="126.4" x2="229.15" y2="129.18" stroke="#000" stroke-width="0.95"/>
<line x1="293.65" y1="126.4" x2="293.65" y2="129.18" stroke="#000" stroke-width="0.95"/>
<line x1="358.15" y1="126.4" x2="358.15" y2="129.18" stroke="#000" stroke-width="0.95"/>
<line x1="422.65" y1="126.4" x2="422.65" y2="129.18" stroke="#000" stroke-width="0.95"/>
<line x1="487.15" y1="126.4" x2="487.15" y2="129.18" stroke="#000" stroke-width="0.95"/>
<line x1="551.65" y1="126.4" x2="551.65" y2="129.18" stroke="#000" stroke-width="0.95"/>
<line x1="616.15" y1="126.4" x2="616.15" y2="129.18" stroke="#000" stroke-width="0.95"/>
<line x1="680.65" y1="126.4" x2="680.65" y2="129.18" stroke="#000" stroke-width="0.95"/>
<rect x="86.3" y="147.7" width="608.2" height="97.05" fill="none" stroke="#000" stroke-width="1.11"/>
<line x1="132.4" y1="244.75" x2="132.4" y2="249.61" stroke="#000" stroke-width="1.11"/>
<line x1="196.9" y1="244.75" x2="196.9" y2="249.61" stroke="#000" stroke-width="1.11"/>
<line x1="261.4" y1="244.75" x2="261.4" y2="249.61" stroke="#000" stroke-width="1.11"/>
<line x1="325.9" y1="244.75" x2="325.9" y2="249.61" stroke="#000" stroke-width="1.11"/>
<line x1="390.4" y1="244.75" x2="390.4" y2="249.61" stroke="#000" stroke-width="1.11"/>
<line x1="454.9" y1="244.75" x2="454.9" y2="249.61" stroke="#000" stroke-width="1.11"/>
<line x1="519.4" y1="244.75" x2="519.4" y2="249.61" stroke="#000" stroke-width="1.11"/>
<line x1="583.9" y1="244.75" x2="583.9" y2="249.61" stroke="#000" stroke-width="1.11"/>
<line x1="648.4" y1="244.75" x2="648.4" y2="249.61" stroke="#000" stroke-width="1.11"/>
<line x1="100.15" y1="244.75" x2="100.15" y2="247.53" stroke="#000" stroke-width="0.95"/>
<line x1="164.65" y1="244.75" x2="164.65" y2="247.53" stroke="#000" stroke-width="0.95"/>
<line x1="229.15" y1="244.75" x2="229.15" y2="247.53" stroke="#000" stroke-width="0.95"/>
<line x1="293.65" y1="244.75" x2="293.65" y2="247.53" stroke="#000" stroke-width="0.95"/>
<line x1="358.15" y1="244.75" x2="358.15" y2="247.53" stroke="#000" stroke-width="0.95"/>
<line x1="422.65" y1="244.75" x2="422.65" y2="247.53" stroke="#000" stroke-width="0.95"/>
<line x1="487.15" y1="244.75" x2="487.15" y2="247.53" stroke="#000" stroke-width="0.95"/>
<line x1="551.65" y1="244.75" x2="551.65" y2="247.53" stroke="#000" stroke-width="0.95"/>
<line x1="616.15" y1="244.75" x2="616.15" y2="247.53" stroke="#000" stroke-width="0.95"/>
<line x1="680.65" y1="244.75" x2="680.65" y2="247.53" stroke="#000" stroke-width="0.95"/>
<rect x="86.3" y="265.8" width="608.2" height="129.45" fill="none" stroke="#000" stroke-width="1.11"/>
<line x1="132.4" y1="395.25" x2="132.4" y2="400.11" stroke="#000" stroke-width="1.11"/>
<line x1="196.9" y1="395.25" x2="196.9" y2="400.11" stroke="#000" stroke-width="1.11"/>
<line x1="261.4" y1="395.25" x2="261.4" y2="400.11" stroke="#000" stroke-width="1.11"/>
<line x1="325.9" y1="395.25" x2="325.9" y2="400.11" stroke="#000" stroke-width="1.11"/>
<line x1="390.4" y1="395.25" x2="390.4" y2="400.11" stroke="#000" stroke-width="1.11"/>
<line x1="454.9" y1="395.25" x2="454.9" y2="400.11" stroke="#000" stroke-width="1.11"/>
<line x1="519.4" y1="395.25" x2="519.4" y2="400.11" stroke="#000" stroke-width="1.11"/>
<line x1="583.9" y1="395.25" x2="583.9" y2="400.11" stroke="#000" stroke-width="1.11"/>
<line x1="648.4" y1="395.25" x2="648.4" y2="400.11" stroke="#000" stroke-width="1.11"/>
<line x1="100.15" y1="395.25" x2="100.15" y2="398.03" stroke="#000" stroke-width="0.95"/>
<line x1="164.65" y1="395.25" x2="164.65" y2="398.03" stroke="#000" stroke-width="0.95"/>
<line x1="229.15" y1="395.25" x2="229.15" y2="398.03" stroke="#000" stroke-width="0.95"/>
<line x1="293.65" y1="395.25" x2="293.65" y2="398.03" stroke="#000" stroke-width="0.95"/>
<line x1="358.15" y1="395.25" x2="358.15" y2="398.03" stroke="#000" stroke-width="0.95"/>
<line x1="422.65" y1="395.25" x2="422.65" y2="398.03" stroke="#000" stroke-width="0.95"/>
<line x1="487.15" y1="395.25" x2="487.15" y2="398.03" stroke="#000" stroke-width="0.95"/>
<line x1="551.65" y1="395.25" x2="551.65" y2="398.03" stroke="#000" stroke-width="0.95"/>
<line x1="616.15" y1="395.25" x2="616.15" y2="398.03" stroke="#000" stroke-width="0.95"/>
<line x1="680.65" y1="395.25" x2="680.65" y2="398.03" stroke="#000" stroke-width="0.95"/>
<rect x="86.3" y="416.4" width="608.2" height="129.4" fill="none" stroke="#000" stroke-width="1.11"/>
<line x1="132.4" y1="545.8" x2="132.4" y2="550.66" stroke="#000" stroke-width="1.11"/>
<line x1="196.9" y1="545.8" x2="196.9" y2="550.66" stroke="#000" stroke-width="1.11"/>
<line x1="261.4" y1="545.8" x2="261.4" y2="550.66" stroke="#000" stroke-width="1.11"/>
<line x1="325.9" y1="545.8" x2="325.9" y2="550.66" stroke="#000" stroke-width="1.11"/>
<line x1="390.4" y1="545.8" x2="390.4" y2="550.66" stroke="#000" stroke-width="1.11"/>
<line x1="454.9" y1="545.8" x2="454.9" y2="550.66" stroke="#000" stroke-width="1.11"/>
<line x1="519.4" y1="545.8" x2="519.4" y2="550.66" stroke="#000" stroke-width="1.11"/>
<line x1="583.9" y1="545.8" x2="583.9" y2="550.66" stroke="#000" stroke-width="1.11"/>
<line x1="648.4" y1="545.8" x2="648.4" y2="550.66" stroke="#000" stroke-width="1.11"/>
<line x1="100.15" y1="545.8" x2="100.15" y2="548.58" stroke="#000" stroke-width="0.95"/>
<line x1="164.65" y1="545.8" x2="164.65" y2="548.58" stroke="#000" stroke-width="0.95"/>
<line x1="229.15" y1="545.8" x2="229.15" y2="548.58" stroke="#000" stroke-width="0.95"/>
<line x1="293.65" y1="545.8" x2="293.65" y2="548.58" stroke="#000" stroke-width="0.95"/>
<line x1="358.15" y1="545.8" x2="358.15" y2="548.58" stroke="#000" stroke-width="0.95"/>
<line x1="422.65" y1="545.8" x2="422.65" y2="548.58" stroke="#000" stroke-width="0.95"/>
<line x1="487.15" y1="545.8" x2="487.15" y2="548.58" stroke="#000" stroke-width="0.95"/>
<line x1="551.65" y1="545.8" x2="551.65" y2="548.58" stroke="#000" stroke-width="0.95"/>
<line x1="616.15" y1="545.8" x2="616.15" y2="548.58" stroke="#000" stroke-width="0.95"/>
<line x1="680.65" y1="545.8" x2="680.65" y2="548.58" stroke="#000" stroke-width="0.95"/>
<line x1="81.44" y1="118.34" x2="86.3" y2="118.34" stroke="#000" stroke-width="1.11"/>
<line x1="694.5" y1="118.34" x2="699.36" y2="118.34" stroke="#000" stroke-width="1.11"/>
<line x1="81.44" y1="94.15" x2="86.3" y2="94.15" stroke="#000" stroke-width="1.11"/>
<line x1="694.5" y1="94.15" x2="699.36" y2="94.15" stroke="#000" stroke-width="1.11"/>
<line x1="81.44" y1="69.96" x2="86.3" y2="69.96" stroke="#000" stroke-width="1.11"/>
<line x1="694.5" y1="69.96" x2="699.36" y2="69.96" stroke="#000" stroke-width="1.11"/>
<line x1="83.52" y1="126.4" x2="86.3" y2="126.4" stroke="#000" stroke-width="0.95"/>
<line x1="694.5" y1="126.4" x2="697.28" y2="126.4" stroke="#000" stroke-width="0.95"/>
<line x1="83.52" y1="110.28" x2="86.3" y2="110.28" stroke="#000" stroke-width="0.95"/>
<line x1="694.5" y1="110.28" x2="697.28" y2="110.28" stroke="#000" stroke-width="0.95"/>
<line x1="83.52" y1="102.21" x2="86.3" y2="102.21" stroke="#000" stroke-width="0.95"/>
<line x1="694.5" y1="102.21" x2="697.28" y2="102.21" stroke="#000" stroke-width="0.95"/>
<line x1="83.52" y1="86.09" x2="86.3" y2="86.09" stroke="#000" stroke-width="0.95"/>
<line x1="694.5" y1="86.09" x2="697.28" y2="86.09" stroke="#000" stroke-width="0.95"/>
<line x1="83.52" y1="78.03" x2="86.3" y2="78.03" stroke="#000" stroke-width="0.95"/>
<line x1="694.5" y1="78.03" x2="697.28" y2="78.03" stroke="#000" stroke-width="0.95"/>
<line x1="83.52" y1="61.9" x2="86.3" y2="61.9" stroke="#000" stroke-width="0.95"/>
<line x1="694.5" y1="61.9" x2="697.28" y2="61.9" stroke="#000" stroke-width="0.95"/>
<text x="76" y="124.09" text-anchor="end" font-size="14.1" textLength="8.94" lengthAdjust="spacingAndGlyphs">0</text>
<text x="76" y="99.9" text-anchor="end" font-size="14.1" textLength="17.89" lengthAdjust="spacingAndGlyphs">90</text>
<text x="76" y="75.71" text-anchor="end" font-size="14.1" textLength="26.83" lengthAdjust="spacingAndGlyphs">180</text>
<line x1="81.44" y1="244.75" x2="86.3" y2="244.75" stroke="#000" stroke-width="1.11"/>
<line x1="694.5" y1="244.75" x2="699.36" y2="244.75" stroke="#000" stroke-width="1.11"/>
<line x1="81.44" y1="217.79" x2="86.3" y2="217.79" stroke="#000" stroke-width="1.11"/>
<line x1="694.5" y1="217.79" x2="699.36" y2="217.79" stroke="#000" stroke-width="1.11"/>
<line x1="81.44" y1="190.83" x2="86.3" y2="190.83" stroke="#000" stroke-width="1.11"/>
<line x1="694.5" y1="190.83" x2="699.36" y2="190.83" stroke="#000" stroke-width="1.11"/>
<line x1="81.44" y1="163.88" x2="86.3" y2="163.88" stroke="#000" stroke-width="1.11"/>
<line x1="694.5" y1="163.88" x2="699.36" y2="163.88" stroke="#000" stroke-width="1.11"/>
<line x1="83.52" y1="231.27" x2="86.3" y2="231.27" stroke="#000" stroke-width="0.95"/>
<line x1="694.5" y1="231.27" x2="697.28" y2="231.27" stroke="#000" stroke-width="0.95"/>
<line x1="83.52" y1="204.31" x2="86.3" y2="204.31" stroke="#000" stroke-width="0.95"/>
<line x1="694.5" y1="204.31" x2="697.28" y2="204.31" stroke="#000" stroke-width="0.95"/>
<line x1="83.52" y1="177.35" x2="86.3" y2="177.35" stroke="#000" stroke-width="0.95"/>
<line x1="694.5" y1="177.35" x2="697.28" y2="177.35" stroke="#000" stroke-width="0.95"/>
<line x1="83.52" y1="150.4" x2="86.3" y2="150.4" stroke="#000" stroke-width="0.95"/>
<line x1="694.5" y1="150.4" x2="697.28" y2="150.4" stroke="#000" stroke-width="0.95"/>
<text x="76" y="250.5" text-anchor="end" font-size="14.1" textLength="8.94" lengthAdjust="spacingAndGlyphs">0</text>
<text x="76" y="223.54" text-anchor="end" font-size="14.1" textLength="17.89" lengthAdjust="spacingAndGlyphs">50</text>
<text x="76" y="196.58" text-anchor="end" font-size="14.1" textLength="26.83" lengthAdjust="spacingAndGlyphs">100</text>
<text x="76" y="169.62" text-anchor="end" font-size="14.1" textLength="26.83" lengthAdjust="spacingAndGlyphs">150</text>
<line x1="81.44" y1="395.25" x2="86.3" y2="395.25" stroke="#000" stroke-width="1.11"/>
<line x1="694.5" y1="395.25" x2="699.36" y2="395.25" stroke="#000" stroke-width="1.11"/>
<line x1="81.44" y1="369.36" x2="86.3" y2="369.36" stroke="#000" stroke-width="1.11"/>
<line x1="694.5" y1="369.36" x2="699.36" y2="369.36" stroke="#000" stroke-width="1.11"/>
<line x1="81.44" y1="343.47" x2="86.3" y2="343.47" stroke="#000" stroke-width="1.11"/>
<line x1="694.5" y1="343.47" x2="699.36" y2="343.47" stroke="#000" stroke-width="1.11"/>
<line x1="81.44" y1="317.58" x2="86.3" y2="317.58" stroke="#000" stroke-width="1.11"/>
<line x1="694.5" y1="317.58" x2="699.36" y2="317.58" stroke="#000" stroke-width="1.11"/>
<line x1="81.44" y1="291.69" x2="86.3" y2="291.69" stroke="#000" stroke-width="1.11"/>
<line x1="694.5" y1="291.69" x2="699.36" y2="291.69" stroke="#000" stroke-width="1.11"/>
<line x1="81.44" y1="265.8" x2="86.3" y2="265.8" stroke="#000" stroke-width="1.11"/>
<line x1="694.5" y1="265.8" x2="699.36" y2="265.8" stroke="#000" stroke-width="1.11"/>
<line x1="83.52" y1="382.31" x2="86.3" y2="382.31" stroke="#000" stroke-width="0.95"/>
<line x1="694.5" y1="382.31" x2="697.28" y2="382.31" stroke="#000" stroke-width="0.95"/>
<line x1="83.52" y1="356.42" x2="86.3" y2="356.42" stroke="#000" stroke-width="0.95"/>
<line x1="694.5" y1="356.42" x2="697.28" y2="356.42" stroke="#000" stroke-width="0.95"/>
<line x1="83.52" y1="330.52" x2="86.3" y2="330.52" stroke="#000" stroke-width="0.95"/>
<line x1="694.5" y1="330.52" x2="697.28" y2="330.52" stroke="#000" stroke-width="0.95"/>
<line x1="83.52" y1="304.63" x2="86.3" y2="304.63" stroke="#000" stroke-width="0.95"/>
<line x1="694.5" y1="304.63" x2="697.28" y2="304.63" stroke="#000" stroke-width="0.95"/>
<line x1="83.52" y1="278.75" x2="86.3" y2="278.75" stroke="#000" stroke-width="0.95"/>
<line x1="694.5" y1="278.75" x2="697.28" y2="278.75" stroke="#000" stroke-width="0.95"/>
<text x="76" y="401" text-anchor="end" font-size="14.1" textLength="8.94" lengthAdjust="spacingAndGlyphs">0</text>
<text x="76" y="375.11" text-anchor="end" font-size="14.1" textLength="8.94" lengthAdjust="spacingAndGlyphs">1</text>
<text x="76" y="349.22" text-anchor="end" font-size="14.1" textLength="8.94" lengthAdjust="spacingAndGlyphs">2</text>
<text x="76" y="323.33" text-anchor="end" font-size="14.1" textLength="8.94" lengthAdjust="spacingAndGlyphs">3</text>
<text x="76" y="297.44" text-anchor="end" font-size="14.1" textLength="8.94" lengthAdjust="spacingAndGlyphs">4</text>
<text x="76" y="271.55" text-anchor="end" font-size="14.1" textLength="8.94" lengthAdjust="spacingAndGlyphs">5</text>
<line x1="81.44" y1="545.8" x2="86.3" y2="545.8" stroke="#000" stroke-width="1.11"/>
<line x1="694.5" y1="545.8" x2="699.36" y2="545.8" stroke="#000" stroke-width="1.11"/>
<line x1="81.44" y1="511.29" x2="86.3" y2="511.29" stroke="#000" stroke-width="1.11"/>
<line x1="694.5" y1="511.29" x2="699.36" y2="511.29" stroke="#000" stroke-width="1.11"/>
<line x1="81.44" y1="476.79" x2="86.3" y2="476.79" stroke="#000" stroke-width="1.11"/>
<line x1="694.5" y1="476.79" x2="699.36" y2="476.79" stroke="#000" stroke-width="1.11"/>
<line x1="81.44" y1="442.28" x2="86.3" y2="442.28" stroke="#000" stroke-width="1.11"/>
<line x1="694.5" y1="442.28" x2="699.36" y2="442.28" stroke="#000" stroke-width="1.11"/>
<text x="76" y="551.55" text-anchor="end" font-size="14.1" textLength="31.3" lengthAdjust="spacingAndGlyphs">0.00</text>
<text x="76" y="517.04" text-anchor="end" font-size="14.1" textLength="31.3" lengthAdjust="spacingAndGlyphs">0.02</text>
<text x="76" y="482.54" text-anchor="end" font-size="14.1" textLength="31.3" lengthAdjust="spacingAndGlyphs">0.04</text>
<text x="76" y="448.03" text-anchor="end" font-size="14.1" textLength="31.3" lengthAdjust="spacingAndGlyphs">0.06</text>
<text x="132.4" y="567.7" text-anchor="middle" font-size="14.1" textLength="31.57" lengthAdjust="spacingAndGlyphs">3/20</text>
<text x="196.9" y="567.7" text-anchor="middle" font-size="14.1" textLength="31.57" lengthAdjust="spacingAndGlyphs">3/24</text>
<text x="261.4" y="567.7" text-anchor="middle" font-size="14.1" textLength="31.57" lengthAdjust="spacingAndGlyphs">3/28</text>
<text x="325.9" y="567.7" text-anchor="middle" font-size="14.1" textLength="31.57" lengthAdjust="spacingAndGlyphs">4/01</text>
<text x="390.4" y="567.7" text-anchor="middle" font-size="14.1" textLength="31.57" lengthAdjust="spacingAndGlyphs">4/05</text>
<text x="454.9" y="567.7" text-anchor="middle" font-size="14.1" textLength="31.57" lengthAdjust="spacingAndGlyphs">4/09</text>
<text x="519.4" y="567.7" text-anchor="middle" font-size="14.1" textLength="31.57" lengthAdjust="spacingAndGlyphs">4/13</text>
<text x="583.9" y="567.7" text-anchor="middle" font-size="14.1" textLength="31.57" lengthAdjust="spacingAndGlyphs">4/17</text>
<text x="648.4" y="567.7" text-anchor="middle" font-size="14.1" textLength="31.57" lengthAdjust="spacingAndGlyphs">4/21</text>
<text x="390.5" y="585.8" text-anchor="middle" font-size="14.1" textLength="33.6" lengthAdjust="spacingAndGlyphs">Date</text>
<line x1="104.9" y1="61.9" x2="104.9" y2="57.04" stroke="#000" stroke-width="1.11"/>
<text x="104.9" y="48.6" text-anchor="middle" font-size="14.1" textLength="22.35" lengthAdjust="spacingAndGlyphs">0.5</text>
<line x1="189.1" y1="61.9" x2="189.1" y2="57.04" stroke="#000" stroke-width="1.11"/>
<text x="189.1" y="48.6" text-anchor="middle" font-size="14.1" textLength="22.35" lengthAdjust="spacingAndGlyphs">0.4</text>
<line x1="263.4" y1="61.9" x2="263.4" y2="57.04" stroke="#000" stroke-width="1.11"/>
<text x="263.4" y="48.6" text-anchor="middle" font-size="14.1" textLength="22.35" lengthAdjust="spacingAndGlyphs">0.3</text>
<line x1="338.2" y1="61.9" x2="338.2" y2="57.04" stroke="#000" stroke-width="1.11"/>
<text x="338.2" y="48.6" text-anchor="middle" font-size="14.1" textLength="22.35" lengthAdjust="spacingAndGlyphs">0.2</text>
<line x1="390.5" y1="61.9" x2="390.5" y2="57.04" stroke="#000" stroke-width="1.11"/>
<text x="390.5" y="48.6" text-anchor="middle" font-size="14.1" textLength="31.3" lengthAdjust="spacingAndGlyphs">0.17</text>
<line x1="442.3" y1="61.9" x2="442.3" y2="57.04" stroke="#000" stroke-width="1.11"/>
<text x="442.3" y="48.6" text-anchor="middle" font-size="14.1" textLength="22.35" lengthAdjust="spacingAndGlyphs">0.2</text>
<line x1="517" y1="61.9" x2="517" y2="57.04" stroke="#000" stroke-width="1.11"/>
<text x="517" y="48.6" text-anchor="middle" font-size="14.1" textLength="22.35" lengthAdjust="spacingAndGlyphs">0.3</text>
<line x1="591.4" y1="61.9" x2="591.4" y2="57.04" stroke="#000" stroke-width="1.11"/>
<text x="591.4" y="48.6" text-anchor="middle" font-size="14.1" textLength="22.35" lengthAdjust="spacingAndGlyphs">0.4</text>
<line x1="676.2" y1="61.9" x2="676.2" y2="57.04" stroke="#000" stroke-width="1.11"/>
<text x="676.2" y="48.6" text-anchor="middle" font-size="14.1" textLength="22.35" lengthAdjust="spacingAndGlyphs">0.5</text>
<text x="390.5" y="32" text-anchor="middle" font-size="14.1" textLength="213.2" lengthAdjust="spacingAndGlyphs">PSP Heliocentric Distance (au)</text>
<text x="354.4" y="11.4" text-anchor="middle" font-size="14.1" textLength="414.6" lengthAdjust="spacingAndGlyphs">Impact Rate and Geometry of Grains on Retrograde Orbits</text>
<rect x="93.2" y="272.8" width="103.7" height="46.2" rx="2.8" ry="2.8" fill="#fff" stroke="#d4d4d4" stroke-width="1.1"/>
<line x1="98" y1="284.3" x2="128.2" y2="284.3" stroke="#ff0000" stroke-width="2"/>
<line x1="98" y1="305.5" x2="128.2" y2="305.5" stroke="#000" stroke-width="2.1"/>
<text x="139" y="289.2" text-anchor="start" font-size="14.1" textLength="51.4" lengthAdjust="spacingAndGlyphs">V3 side</text>
<text x="139" y="310.4" text-anchor="start" font-size="14.1" textLength="51.4" lengthAdjust="spacingAndGlyphs">V4 side</text>
<rect x="568.4" y="423.4" width="118.6" height="67" rx="2.8" ry="2.8" fill="#fff" stroke="#d4d4d4" stroke-width="1.1"/>
<text x="627.7" y="440" text-anchor="middle" font-size="14.1" textLength="43.8" lengthAdjust="spacingAndGlyphs">V3–V4</text>
<line x1="588.6" y1="449" x2="588.6" y2="463" stroke="#ff0000" stroke-width="1.45"/>
<circle cx="588.6" cy="456.0" r="3.6" fill="#ff0000"/>
<line x1="588.6" y1="469.9" x2="588.6" y2="483.9" stroke="#000" stroke-width="1.45"/>
<circle cx="588.6" cy="476.9" r="3.6" fill="#000"/>
<text x="614.6" y="460.7" text-anchor="start" font-size="14.1" textLength="61.5" lengthAdjust="spacingAndGlyphs">&gt; 50 mV</text>
<text x="614.6" y="481.2" text-anchor="start" font-size="14.1" textLength="66.8" lengthAdjust="spacingAndGlyphs">&lt; -50 mV</text>
<g id="ylabels">
<g transform="translate(11.5,114.3) rotate(-90)">
<text x="0" y="0" font-size="14.1" font-style="italic" textLength="9.2" lengthAdjust="spacingAndGlyphs">φ</text>
<text x="10" y="3" font-size="9.9" font-style="italic" textLength="14" lengthAdjust="spacingAndGlyphs">inc</text>
<text x="27.5" y="0" font-size="14.1" textLength="13.4" lengthAdjust="spacingAndGlyphs">of</text>
</g>
<g transform="translate(29.4,138.6) rotate(-90)">
<text x="0" y="0" font-size="14.1" textLength="5.4" lengthAdjust="spacingAndGlyphs">(</text>
<text x="5.4" y="0" font-size="14.1" font-style="italic" textLength="8.2" lengthAdjust="spacingAndGlyphs">v</text>
<text x="14.2" y="3" font-size="9.9" font-style="italic" textLength="23.8" lengthAdjust="spacingAndGlyphs">retro</text>
<text x="41.7" y="0" font-size="14.1" textLength="11.6" lengthAdjust="spacingAndGlyphs">−</text>
<text x="56.2" y="0" font-size="14.1" font-style="italic" textLength="8.2" lengthAdjust="spacingAndGlyphs">v</text>
<text x="65" y="3" font-size="9.9" font-style="italic" textLength="18.2" lengthAdjust="spacingAndGlyphs">PSP</text>
<text x="83.6" y="0" font-size="14.1" textLength="5.4" lengthAdjust="spacingAndGlyphs">)</text>
<path d="M5.8 -10.6H13.2" stroke="#000" stroke-width="0.75" fill="none"/>
<path d="M11.4 -12L13.9 -10.6L11.4 -9.2" stroke="#000" stroke-width="0.75" fill="none" stroke-linejoin="miter"/>
<path d="M56.6 -10.6H64.1" stroke="#000" stroke-width="0.75" fill="none"/>
<path d="M62.3 -12L64.8 -10.6L62.3 -9.2" stroke="#000" stroke-width="0.75" fill="none" stroke-linejoin="miter"/>
</g>
<g transform="translate(13.3,239.3) rotate(-90)">
<text x="0" y="0" font-size="14.1" textLength="4.68" lengthAdjust="spacingAndGlyphs">|</text>
<text x="4.5" y="0" font-size="14.1" font-style="italic" textLength="8.2" lengthAdjust="spacingAndGlyphs">v</text>
<text x="13.4" y="3" font-size="9.9" font-style="italic" textLength="23.8" lengthAdjust="spacingAndGlyphs">retro</text>
<text x="41.3" y="0" font-size="14.1" textLength="11.6" lengthAdjust="spacingAndGlyphs">−</text>
<text x="56.1" y="0" font-size="14.1" font-style="italic" textLength="8.2" lengthAdjust="spacingAndGlyphs">v</text>
<text x="64.7" y="3" font-size="9.9" font-style="italic" textLength="18.2" lengthAdjust="spacingAndGlyphs">PSP</text>
<text x="82.8" y="0" font-size="14.1" textLength="4.68" lengthAdjust="spacingAndGlyphs">|</text>
<path d="M4.9 -10.6H12.4" stroke="#000" stroke-width="0.75" fill="none"/>
<path d="M10.6 -12L13.1 -10.6L10.6 -9.2" stroke="#000" stroke-width="0.75" fill="none" stroke-linejoin="miter"/>
<path d="M56.5 -10.6H63.7" stroke="#000" stroke-width="0.75" fill="none"/>
<path d="M61.9 -12L64.4 -10.6L61.9 -9.2" stroke="#000" stroke-width="0.75" fill="none" stroke-linejoin="miter"/>
</g>
<text transform="translate(29.8,194.05) rotate(-90)" text-anchor="middle" font-size="14.1" textLength="44.6" lengthAdjust="spacingAndGlyphs">(km/s)</text>
<text transform="translate(11.9,332.7) rotate(-90)" text-anchor="middle" font-size="14.1" textLength="102.8" lengthAdjust="spacingAndGlyphs">Projected area</text>
<g transform="translate(28.3,374) rotate(-90)">
<text x="0" y="0" font-size="14.1" textLength="28.9" lengthAdjust="spacingAndGlyphs">for (</text>
<text x="30.2" y="0" font-size="14.1" font-style="italic" textLength="9.2" lengthAdjust="spacingAndGlyphs">φ</text>
<text x="40.6" y="3" font-size="9.9" font-style="italic" textLength="13.6" lengthAdjust="spacingAndGlyphs">inc</text>
<text x="54" y="0" font-size="14.1" textLength="4.4" lengthAdjust="spacingAndGlyphs">,</text>
<text x="61" y="0" font-size="14.1" font-style="italic" textLength="9.2" lengthAdjust="spacingAndGlyphs">ϕ</text>
<text x="70.6" y="3" font-size="9.9" font-style="italic" textLength="15.4" lengthAdjust="spacingAndGlyphs">roll</text>
<text x="86" y="0" font-size="14.1" textLength="5.4" lengthAdjust="spacingAndGlyphs">)</text>
</g>
<g transform="translate(45.1,345.2) rotate(-90)">
<text x="0" y="0" font-size="14.1" textLength="5.4" lengthAdjust="spacingAndGlyphs">(</text>
<text x="5.4" y="0" font-size="14.1" textLength="13.5" lengthAdjust="spacingAndGlyphs">m</text>
<text x="18.9" y="-5.6" font-size="10.2" textLength="6.4" lengthAdjust="spacingAndGlyphs">2</text>
<text x="25.4" y="0" font-size="14.1" textLength="5.4" lengthAdjust="spacingAndGlyphs">)</text>
</g>
<text transform="translate(11.9,483.2) rotate(-90)" text-anchor="middle" font-size="14.1" textLength="57.8" lengthAdjust="spacingAndGlyphs">Hit Rate</text>
<g transform="translate(29.2,540.6) rotate(-90)">
<text x="0" y="0" font-size="14.1" textLength="83.3" lengthAdjust="spacingAndGlyphs">(Counts/(10</text>
<text x="83.6" y="-6" font-size="10.2" textLength="6.4" lengthAdjust="spacingAndGlyphs">6</text>
<text x="90.2" y="0" font-size="14.1" textLength="29.4" lengthAdjust="spacingAndGlyphs"> m))</text>
</g>
</g>

</svg>
</body></html>
